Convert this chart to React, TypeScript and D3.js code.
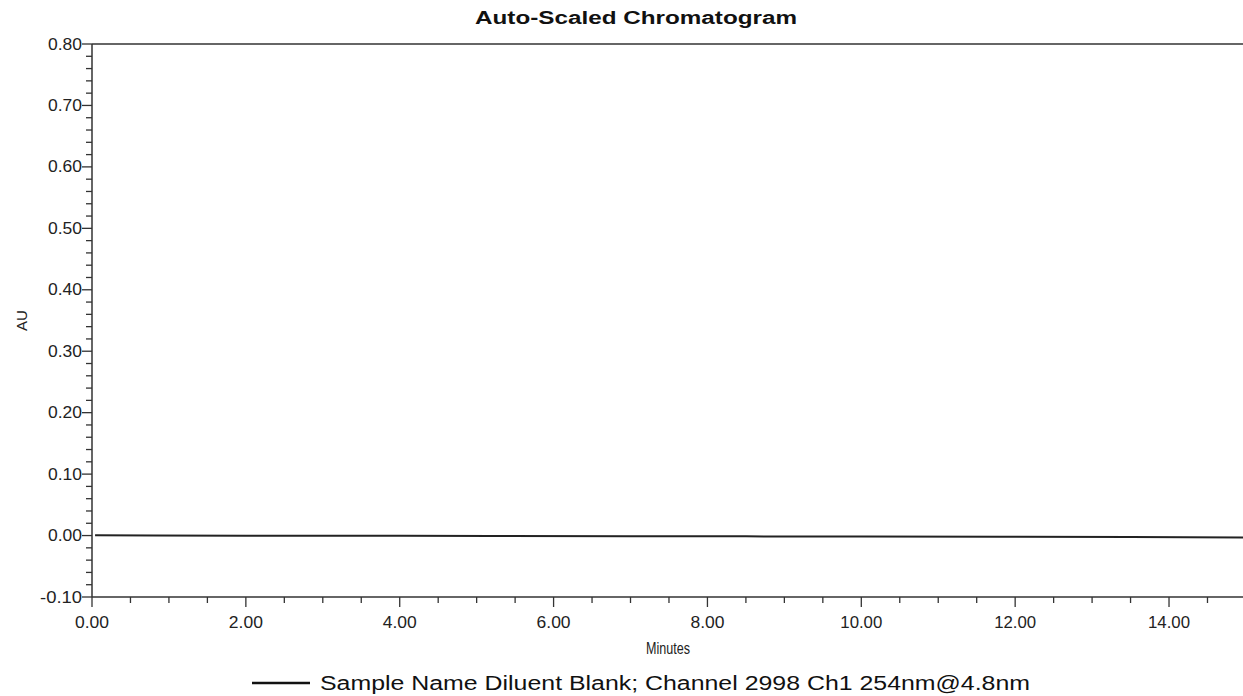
import React from "react";
import * as d3 from "d3";

const times = [0.04, 0.8, 2.0, 4.0, 5.2, 7.0, 8.5, 10.0, 11.8, 13.5, 15.0];
const au = [0.0005, 0.0002, -0.0003, -0.0005, -0.0008, -0.001, -0.0013, -0.0016, -0.002, -0.0025, -0.003];
const xMajorTicks = [0, 2, 4, 6, 8, 10, 12, 14];
const yMajorTicks = [-0.1, 0, 0.1, 0.2, 0.3, 0.4, 0.5, 0.6, 0.7, 0.8];
const titleText = "Auto-Scaled Chromatogram";
const legendText = "Sample Name Diluent Blank; Channel 2998 Ch1 254nm@4.8nm";

export default function App() {
  const W = 1243, H = 696;
  const left = 92, top = 44, bottom = 597;
  const x = d3.scaleLinear().domain([0, 15]).range([left, left + 15 * 76.93]);
  const y = d3.scaleLinear().domain([-0.1, 0.8]).range([bottom, top]);
  const font = "'Liberation Sans', Arial, sans-serif";
  const xMinor = d3.range(0, 15.01, 0.5).filter(v => Math.abs(v / 2 - Math.round(v / 2)) > 1e-6);
  const yMinor = d3.range(-0.1, 0.8001, 0.02).filter(v => Math.abs(v * 10 - Math.round(v * 10)) > 1e-6);
  const pts: [number, number][] = times.map((t, i) => [t, au[i]]);
  const line = d3.line<[number, number]>().x(d => x(d[0])).y(d => y(d[1]));
  const fmt = (v: number) => d3.format(".2f")(v).replace("\u2212", "-");
  const labelLen = (s: string) => (s.length === 5 ? 42 : 34);
  return (
    <svg width={W} height={H} style={{ position: "absolute", left: 0, top: 0, background: "#fff" }} fontFamily={font}>
      <text x={475} y={24} fontWeight="bold" fontSize={18} fill="#111" textLength={322} lengthAdjust="spacingAndGlyphs">{titleText}</text>
      {/* frame */}
      <line x1={left} x2={W} y1={top} y2={top} stroke="#333" strokeWidth={1.5} />
      <line x1={left} x2={left} y1={top} y2={bottom} stroke="#333" strokeWidth={1.5} />
      <line x1={left} x2={W} y1={bottom} y2={bottom} stroke="#333" strokeWidth={1.5} />
      {/* y ticks */}
      {yMajorTicks.map(v => (
        <g key={"ym" + v}>
          <line x1={left - 10} x2={left} y1={y(v)} y2={y(v)} stroke="#333" strokeWidth={1.3} />
          <text x={left - 10} y={y(v) + 5.5} textAnchor="end" fontSize={16} fill="#222" textLength={labelLen(fmt(v))} lengthAdjust="spacingAndGlyphs">{fmt(v)}</text>
        </g>
      ))}
      {yMinor.map((v, i) => (
        <line key={"yn" + i} x1={left - 6} x2={left} y1={y(v)} y2={y(v)} stroke="#333" strokeWidth={1.3} />
      ))}
      {/* x ticks */}
      {xMajorTicks.map(v => (
        <g key={"xm" + v}>
          <line x1={x(v)} x2={x(v)} y1={bottom} y2={bottom + 10} stroke="#333" strokeWidth={1.3} />
          <text x={x(v)} y={bottom + 31} textAnchor="middle" fontSize={16} fill="#222" textLength={labelLen(fmt(v))} lengthAdjust="spacingAndGlyphs">{fmt(v)}</text>
        </g>
      ))}
      {xMinor.map((v, i) => (
        <line key={"xn" + i} x1={x(v)} x2={x(v)} y1={bottom} y2={bottom + 6} stroke="#333" strokeWidth={1.3} />
      ))}
      <text transform={`translate(27,${(top + bottom) / 2}) rotate(-90)`} textAnchor="middle" fontSize={15} fill="#222">AU</text>
      <text x={646} y={654} fontSize={16} fill="#222" textLength={44} lengthAdjust="spacingAndGlyphs">Minutes</text>
      {/* data */}
      <path d={line(pts) || ""} fill="none" stroke="#222" strokeWidth={2} />
      {/* legend */}
      <line x1={252} x2={310} y1={683} y2={683} stroke="#111" strokeWidth={2.5} />
      <text x={320} y={690} fontSize={20} fill="#111" textLength={710} lengthAdjust="spacingAndGlyphs">{legendText}</text>
    </svg>
  );
}
